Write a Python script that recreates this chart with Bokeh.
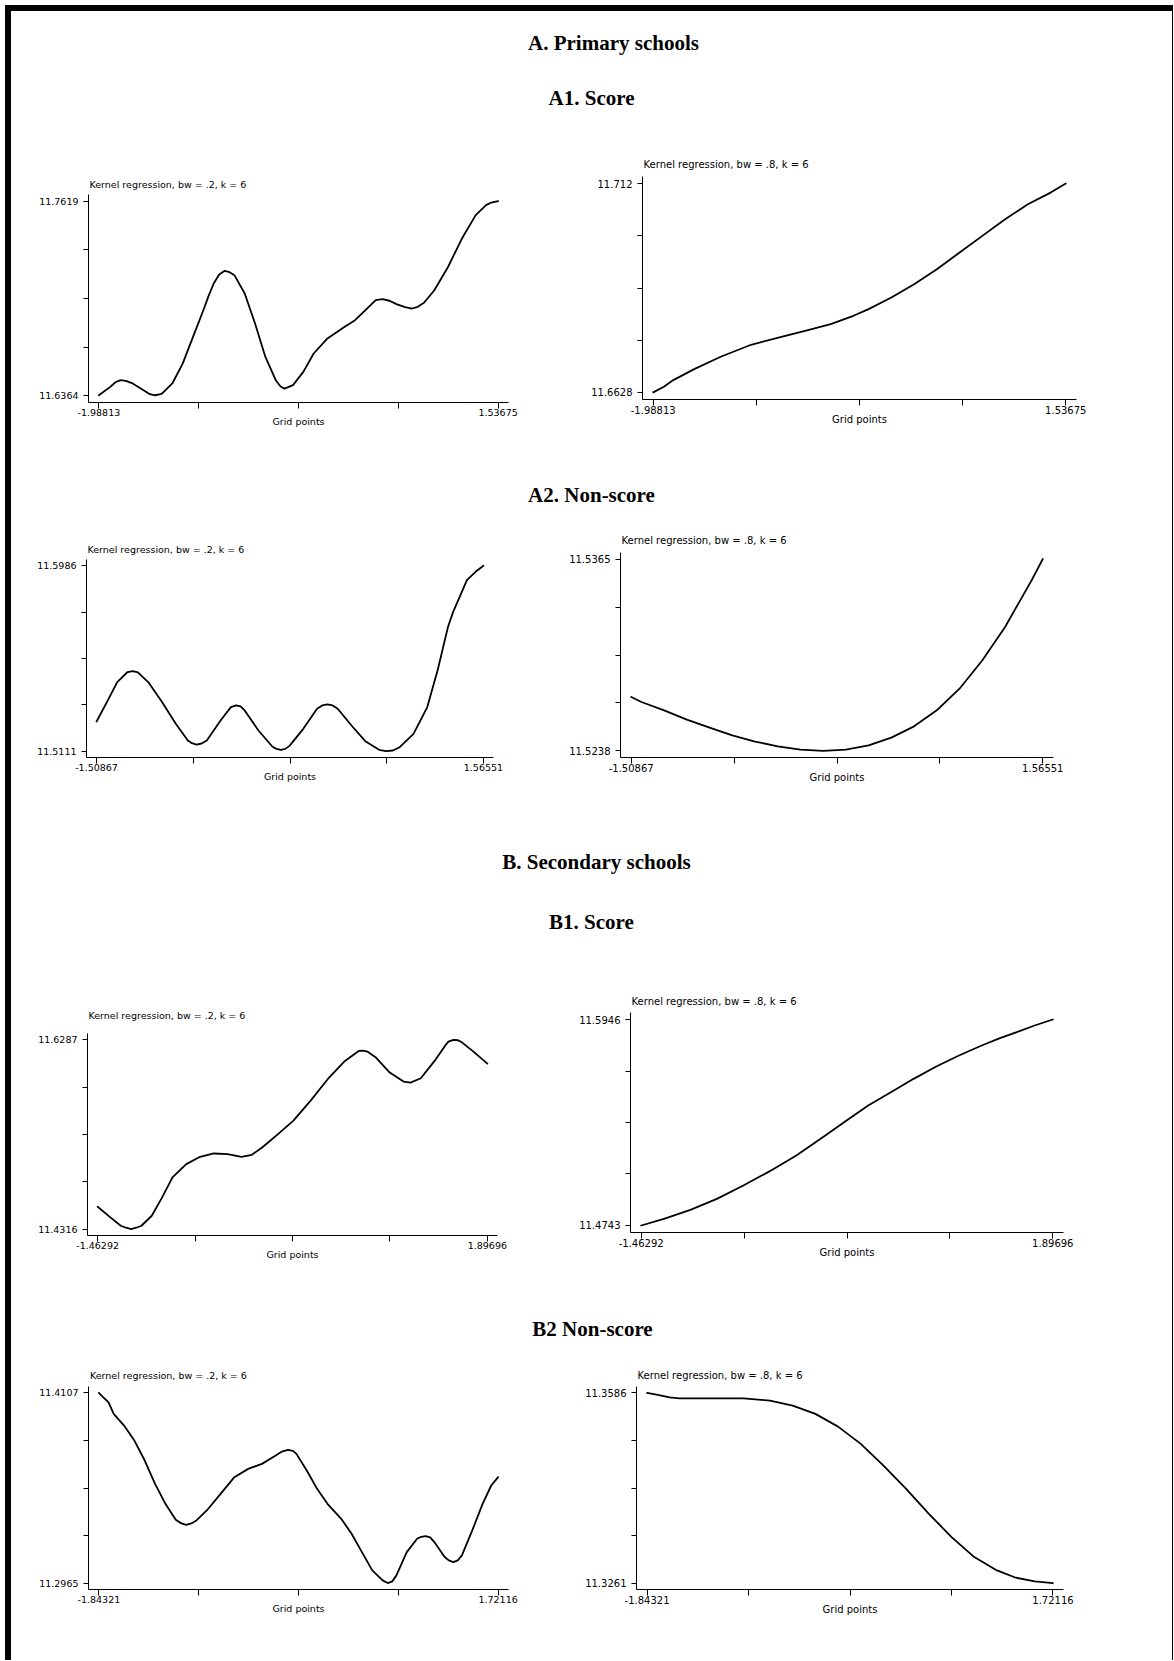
import numpy as np
from bokeh.plotting import figure
from bokeh.models import Range1d, FixedTicker, Label, Spacer
from bokeh.layouts import column, row
from bokeh.core.properties import value
from bokeh.embed import file_html
from bokeh.resources import INLINE

# ---------------- data ----------------
# A1. Score, primary schools
a1_bw2_x = [-1.98813, -1.8877, -1.8420, -1.7964, -1.7507, -1.6898, -1.5833, -1.5376, -1.4920,
            -1.4554, -1.4311, -1.3398, -1.2484, -1.1571, -1.0658, -1.0201, -0.9745, -0.9258,
            -0.8771, -0.8345, -0.7919, -0.7005, -0.6092, -0.5179, -0.4266, -0.3840, -0.3505,
            -0.3170, -0.2744, -0.1831, -0.0917, 0.0300, 0.1822, 0.2735, 0.3953, 0.4562, 0.5170,
            0.5779, 0.6388, 0.7149, 0.7758, 0.8275, 0.8823, 0.9736, 1.0954, 1.2171, 1.3389,
            1.4302, 1.4759, 1.53675]
a1_bw2_y = [11.6368, 11.6422, 11.6452, 11.6465, 11.6461, 11.6444, 11.6396, 11.6375, 11.6368,
            11.6373, 11.6379, 11.6444, 11.6572, 11.6744, 11.6916, 11.7007, 11.7088, 11.7146,
            11.7170, 11.7161, 11.7142, 11.7024, 11.6830, 11.6615, 11.6465, 11.6424, 11.6411,
            11.6420, 11.6433, 11.6519, 11.6637, 11.6734, 11.6809, 11.6852, 11.6938, 11.6981,
            11.6987, 11.6977, 11.6955, 11.6936, 11.6927, 11.6938, 11.6964, 11.7045, 11.7196,
            11.7378, 11.7529, 11.7593, 11.7610, 11.7619]
a1_bw2_xlab = [-1.98813, 1.53675]
a1_bw2_ylab = [11.6364, 11.7619]

a1_bw8_x = [-1.98813, -1.8974, -1.8164, -1.6382, -1.4115, -1.1523, -0.8931, -0.6663, -0.4719,
            -0.2775, -0.1479, 0.0465, 0.2409, 0.4353, 0.6297, 0.8240, 1.0184, 1.2128, 1.4072, 1.53675]
a1_bw8_y = [11.6628, 11.66413, 11.66570, 11.66829, 11.67120, 11.67402, 11.67590, 11.67747,
            11.67889, 11.68085, 11.68242, 11.68516, 11.68830, 11.69183, 11.69576, 11.69968,
            11.70360, 11.70714, 11.70988, 11.7120]
a1_bw8_xlab = [-1.98813, 1.53675]
a1_bw8_ylab = [11.6628, 11.712]

# A2. Non-score, primary schools
a2_bw2_x = [-1.50867, -1.4266, -1.3444, -1.2623, -1.2212, -1.1802, -1.0981, -0.9886, -0.8791,
            -0.7833, -0.7504, -0.7148, -0.6738, -0.6327, -0.5232, -0.4411, -0.4000, -0.3644,
            -0.3316, -0.2221, -0.1126, -0.0797, -0.0441, -0.0085, 0.0243, 0.1338, 0.2433,
            0.2844, 0.3254, 0.3665, 0.4076, 0.5171, 0.6266, 0.7361, 0.7908, 0.8456, 0.9003,
            1.0098, 1.1193, 1.2014, 1.2425, 1.2836, 1.3246, 1.3657, 1.4341, 1.5026, 1.56551]
a2_bw2_y = [11.52513, 11.53428, 11.54374, 11.54847, 11.54894, 11.54831, 11.54374, 11.53428,
            11.52403, 11.51615, 11.51488, 11.51425, 11.51473, 11.51615, 11.52560, 11.53191,
            11.53270, 11.53223, 11.53033, 11.52087, 11.51331, 11.51220, 11.51173, 11.51220,
            11.51362, 11.52166, 11.53112, 11.53270, 11.53317, 11.53270, 11.53112, 11.52324,
            11.51583, 11.51173, 11.5111, 11.51142, 11.51299, 11.51930, 11.53191, 11.54925,
            11.55950, 11.56975, 11.57684, 11.58236, 11.59182, 11.59576, 11.5986]
a2_bw2_xlab = [-1.50867, 1.56551]
a2_bw2_ylab = [11.5111, 11.5986]

a2_bw8_x = [-1.50867, -1.4323, -1.2626, -1.0930, -0.9233, -0.7536, -0.5839, -0.4142, -0.2445,
            -0.0748, 0.0949, 0.2646, 0.4343, 0.6040, 0.7737, 0.9433, 1.1130, 1.2827, 1.3959,
            1.4807, 1.56551]
a2_bw8_y = [11.52737, 11.52704, 11.52649, 11.52587, 11.52534, 11.52483, 11.52442, 11.52411,
            11.52389, 11.52380, 11.52389, 11.52417, 11.52468, 11.52543, 11.52649, 11.52792,
            11.52979, 11.53199, 11.53375, 11.53507, 11.5365]
a2_bw8_xlab = [-1.50867, 1.56551]
a2_bw8_ylab = [11.5238, 11.5365]

# B1. Score, secondary schools
b1_bw2_x = [-1.46292, -1.3529, -1.2637, -1.2191, -1.1745, -1.1299, -1.0853, -0.9961, -0.9069,
            -0.8177, -0.6988, -0.5798, -0.4609, -0.3420, -0.2230, -0.1338, -0.0446, 0.0743,
            0.2230, 0.3716, 0.5203, 0.6690, 0.7879, 0.8236, 0.8622, 0.9366, 1.0555, 1.1744,
            1.2339, 1.3231, 1.4420, 1.5312, 1.5609, 1.6055, 1.6442, 1.6799, 1.7691, 1.89696]
b1_bw2_y = [11.45485, 11.44375, 11.43507, 11.43299, 11.4316, 11.43299, 11.43507, 11.44548,
            11.46457, 11.48539, 11.49927, 11.50690, 11.51037, 11.50968, 11.50690, 11.50898,
            11.51662, 11.52876, 11.54438, 11.56520, 11.58775, 11.60684, 11.61725, 11.61760,
            11.61656, 11.61031, 11.59469, 11.58533, 11.58428, 11.58880, 11.60684, 11.62246,
            11.62697, 11.6287, 11.62835, 11.62593, 11.61725, 11.60406]
b1_bw2_xlab = [-1.46292, 1.89696]
b1_bw2_ylab = [11.4316, 11.6287]

b1_bw8_x = [-1.46292, -1.2776, -1.0615, -0.8453, -0.6291, -0.4129, -0.1968, 0.0194, 0.2047,
            0.3900, 0.5752, 0.7605, 0.9458, 1.1311, 1.3164, 1.4708, 1.6252, 1.7487, 1.89696]
b1_bw8_y = [11.4743, 11.47819, 11.48345, 11.48987, 11.49766, 11.50603, 11.51518, 11.52588,
            11.53523, 11.54438, 11.55216, 11.55995, 11.56715, 11.57358, 11.57942, 11.58389,
            11.58779, 11.59110, 11.5946]
b1_bw8_xlab = [-1.46292, 1.89696]
b1_bw8_ylab = [11.4743, 11.5946]

# B2 Non-score, secondary schools
b2_bw2_x = [-1.84321, -1.8032, -1.7570, -1.7108, -1.6185, -1.5262, -1.4338, -1.3415, -1.2491,
            -1.1568, -1.1106, -1.0645, -1.0183, -0.9721, -0.8798, -0.7567, -0.6335, -0.5104,
            -0.3873, -0.2642, -0.2088, -0.1565, -0.1103, -0.0795, 0.0128, 0.1052, 0.1975,
            0.3206, 0.4130, 0.5053, 0.5977, 0.6900, 0.7362, 0.7762, 0.8131, 0.9055, 0.9978,
            1.0347, 1.0747, 1.1148, 1.1517, 1.2440, 1.2810, 1.3210, 1.3610, 1.3979, 1.4903,
            1.5826, 1.6596, 1.72116]
b2_bw2_y = [11.4107, 11.4081, 11.4051, 11.3981, 11.3911, 11.3821, 11.3701, 11.3561, 11.3441,
            11.3345, 11.3325, 11.3315, 11.3323, 11.3341, 11.3401, 11.3501, 11.3601, 11.3651,
            11.3681, 11.3731, 11.3755, 11.3765, 11.3759, 11.3741, 11.3641, 11.3531, 11.3441,
            11.3351, 11.3261, 11.3151, 11.3041, 11.2981, 11.2965, 11.2975, 11.3011, 11.3151,
            11.3231, 11.3243, 11.3247, 11.3239, 11.3211, 11.3121, 11.3101, 11.3091, 11.3101,
            11.3131, 11.3281, 11.3441, 11.3551, 11.3601]
b2_bw2_xlab = [-1.84321, 1.72116]
b2_bw2_ylab = [11.2965, 11.4107]

b2_bw8_x = [-1.84321, -1.7602, -1.6439, -1.5609, -1.3283, -0.9961, -0.7636, -0.5643, -0.3650,
            -0.1657, 0.0336, 0.2330, 0.4323, 0.6316, 0.8309, 1.0302, 1.2295, 1.3956, 1.5617, 1.72116]
b2_bw8_y = [11.3586, 11.35832, 11.35786, 11.35769, 11.35769, 11.35769, 11.35729, 11.35644,
            11.35502, 11.35285, 11.34989, 11.34619, 11.34221, 11.33794, 11.33395, 11.33054,
            11.32826, 11.32701, 11.32638, 11.3261]
b2_bw8_xlab = [-1.84321, 1.72116]
b2_bw8_ylab = [11.3261, 11.3586]

sub_bw2 = "Kernel regression, bw = .2, k = 6"
sub_bw8 = "Kernel regression, bw = .8, k = 6"
x_title = "Grid points"
headings = ["A. Primary schools", "A1. Score", "A2. Non-score",
            "B. Secondary schools", "B1. Score", "B2 Non-score"]

# ---------------- layout (page pixel positions) ----------------
M = 5                    # outer offset of the black frame
BW = 6                   # thickness of the black frame (top / left)
OX = OY = M + BW         # content origin
LW, RW = 549, 612        # widths of left / right plot figures
PX, PY = 0.026, 0.034    # axis padding fractions
SANS = "DejaVu Sans"


def plot_panel(xs, ys, xlab, ylab, subtitle, fig_x, fig_y, fig_w, fig_h, tick_px, sub_xy, fs):
    x0p, x1p, ytp, ybp = tick_px
    fl = x0p - PX * (x1p - x0p)
    fr = x1p + PX * (x1p - x0p)
    ft = ytp - PY * (ybp - ytp)
    fb = ybp + PY * (ybp - ytp)
    bl = int(round(fl - fig_x))
    fw = int(round(fr - fig_x)) - bl
    br = fig_w - bl - fw
    bt = int(round(ft - fig_y))
    fh = int(round(fb - fig_y)) - bt
    bb = fig_h - bt - fh

    sx, sy = sub_xy
    sx = max(sx, fig_x + bl + 1)
    extra = int(round((fig_y + bt) - sy)) + 10   # room above the axis for the subtitle
    bt2 = bt - extra

    xspan = xlab[1] - xlab[0]
    yspan = ylab[1] - ylab[0]
    x_lo, x_hi = xlab[0] - PX * xspan, xlab[1] + PX * xspan
    y_lo, y_hi = ylab[0] - PY * yspan, ylab[1] + PY * yspan
    upp = (y_hi - y_lo) / fh
    xr = Range1d(x_lo, x_hi)
    yr = Range1d(y_lo, y_hi + extra * upp)

    p = figure(width=fig_w, height=fig_h, x_range=xr, y_range=yr,
               min_border_left=bl, min_border_right=br, min_border_top=bt2, min_border_bottom=bb,
               toolbar_location=None, output_backend="svg", title=None, frame_align=False)
    p.outline_line_color = None
    p.grid.visible = False
    p.background_fill_color = "white"
    p.border_fill_color = "white"

    xt = [float(v) for v in np.linspace(xlab[0], xlab[1], 5)]
    yt = [float(v) for v in np.linspace(ylab[0], ylab[1], 5)]
    xover = {v: "" for v in xt}
    xover[xt[0]] = str(xlab[0])
    xover[xt[-1]] = str(xlab[1])
    yover = {v: "" for v in yt}
    yover[yt[0]] = str(ylab[0])
    yover[yt[-1]] = str(ylab[1])

    for ax, ticks, over, tout in ((p.xaxis[0], xt, xover, 6), (p.yaxis[0], yt, yover, 5)):
        ax.ticker = FixedTicker(ticks=ticks)
        ax.major_label_overrides = over
        ax.axis_line_color = "black"
        ax.axis_line_width = 1
        ax.major_tick_line_color = "black"
        ax.major_tick_line_width = 1
        ax.major_tick_out = tout
        ax.major_tick_in = 0
        ax.minor_tick_line_color = None
        ax.major_label_text_font = SANS
        ax.major_label_text_font_size = fs
        ax.major_label_text_color = "black"
    p.yaxis.bounds = (y_lo, y_hi)
    p.xaxis.major_label_standoff = 0
    p.yaxis.major_label_standoff = 5
    p.xaxis.axis_label = x_title
    p.xaxis.axis_label_text_font = SANS
    p.xaxis.axis_label_text_font_size = fs
    p.xaxis.axis_label_text_font_style = "normal"
    p.xaxis.axis_label_text_color = "black"
    p.xaxis.axis_label_standoff = -3

    p.line(xs, ys, line_color="black", line_width=1.8, line_join="round", line_cap="round")

    # subtitle (inside the enlarged frame, above the y axis)
    fx0 = fig_x + bl
    fy0 = fig_y + bt
    lx = x_lo + (sx - fx0) / fw * (x_hi - x_lo)
    ly = y_hi + (fy0 - sy) * upp
    p.add_layout(Label(x=lx, y=ly, text=subtitle, text_align="left", text_baseline="middle",
                       text_font=SANS, text_font_size=fs, text_color="black"))
    return p


def header(top, height, items):
    w = LW + RW
    p = figure(width=w, height=height, x_range=Range1d(0, w), y_range=Range1d(height, 0),
               min_border=0, toolbar_location=None, output_backend="svg",
               x_axis_location=None, y_axis_location=None, title=None, frame_align=False)
    p.outline_line_color = None
    p.grid.visible = False
    p.text(x=[cx - OX for _, cx, _ in items], y=[cy - top for _, _, cy in items],
           text=[t for t, _, _ in items], text_align="center", text_baseline="middle",
           text_font=value("Liberation Serif"), text_font_style="bold",
           text_font_size="21px", text_color="black")
    return p


R1, R2, R3, R4 = (140, 300), (520, 270), (980, 285), (1360, 265)
XL, XR = OX, OX + LW
FSL, FSR = "9.5px", "10px"

h1 = header(OY, 140 - OY, [(headings[0], 613, 42), (headings[1], 591, 97)])
p_a1l = plot_panel(a1_bw2_x, a1_bw2_y, a1_bw2_xlab, a1_bw2_ylab, sub_bw2, XL, R1[0], LW, R1[1],
                   (98.8, 497.6, 201.0, 395.7), (88.8, 184.0), FSL)
p_a1r = plot_panel(a1_bw8_x, a1_bw8_y, a1_bw8_xlab, a1_bw8_ylab, sub_bw8, XR, R1[0], RW, R1[1],
                   (652.7, 1064.8, 182.7, 391.7), (642.5, 164.0), FSR)
h2 = header(440, 80, [(headings[2], 591, 494)])
p_a2l = plot_panel(a2_bw2_x, a2_bw2_y, a2_bw2_xlab, a2_bw2_ylab, sub_bw2, XL, R2[0], LW, R2[1],
                   (96.4, 483.1, 565.7, 750.7), (80.2, 549.0), FSL)
p_a2r = plot_panel(a2_bw8_x, a2_bw8_y, a2_bw8_xlab, a2_bw8_ylab, sub_bw8, XR, R2[0], RW, R2[1],
                   (630.4, 1042.1, 558.3, 750.7), (617.9, 540.0), FSR)
h3 = header(790, 190, [(headings[3], 596, 861), (headings[4], 591, 921)])
p_b1l = plot_panel(b1_bw2_x, b1_bw2_y, b1_bw2_xlab, b1_bw2_ylab, sub_bw2, XL, R3[0], LW, R3[1],
                   (97.5, 486.6, 1039.0, 1228.3), (85.4, 1015.0), FSL)
p_b1r = plot_panel(b1_bw8_x, b1_bw8_y, b1_bw8_xlab, b1_bw8_ylab, sub_bw8, XR, R3[0], RW, R3[1],
                   (640.6, 1052.7, 1019.0, 1225.0), (630.0, 1000.7), FSR)
h4 = header(1265, 95, [(headings[5], 592, 1328)])
p_b2l = plot_panel(b2_bw2_x, b2_bw2_y, b2_bw2_xlab, b2_bw2_ylab, sub_bw2, XL, R4[0], LW, R4[1],
                   (98.8, 497.6, 1392.3, 1582.7), (89.5, 1375.0), FSL)
p_b2r = plot_panel(b2_bw8_x, b2_bw8_y, b2_bw8_xlab, b2_bw8_ylab, sub_bw8, XR, R4[0], RW, R4[1],
                   (646.3, 1052.7, 1392.3, 1582.7), (636.8, 1375.0), FSR)
footer = Spacer(width=LW + RW, height=35)

page = column(
    h1, row(p_a1l, p_a1r), h2, row(p_a2l, p_a2r), h3, row(p_b1l, p_b1r),
    h4, row(p_b2l, p_b2r), footer,
    styles={"border-top": f"{BW}px solid black", "border-left": f"{BW}px solid black",
            "border-right": "1px solid black", "background-color": "white"},
)
outer = column(Spacer(width=LW + RW + M + BW + 1, height=M),
               row(Spacer(width=M, height=1600), page))

with open("out.html", "w") as f:
    f.write(file_html(outer, INLINE, title="Kernel regressions"))
